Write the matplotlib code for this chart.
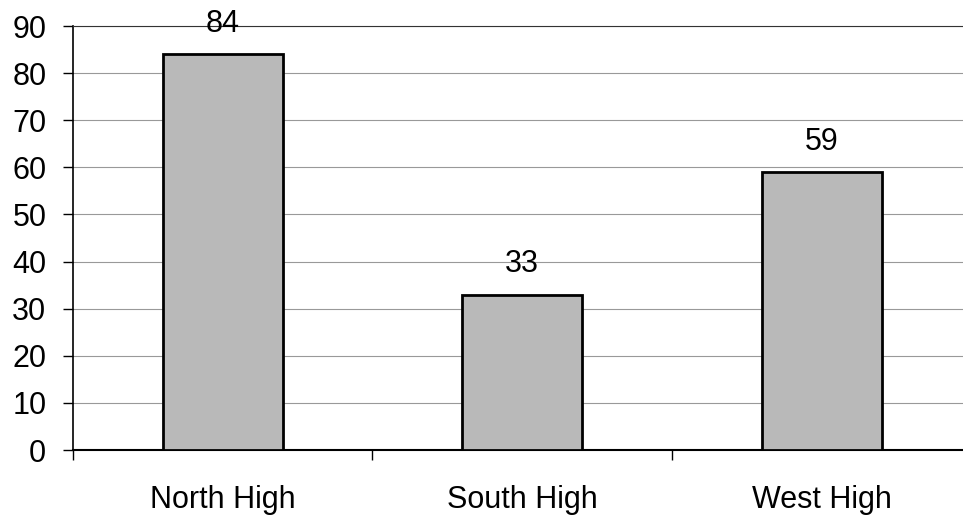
import matplotlib
matplotlib.use("Agg")
import matplotlib.pyplot as plt

plt.rcParams["font.family"] = ["Liberation Sans", "DejaVu Sans"]

schools = ["North High", "South High", "West High"]
counts = [84, 33, 59]
yticks = [0, 10, 20, 30, 40, 50, 60, 70, 80, 90]

fig = plt.figure(figsize=(9.63, 5.16), dpi=100)
ax = fig.add_axes([0.0758, 0.1279, 0.933, 0.8217])

xs = range(len(schools))
bars = ax.bar(xs, counts, width=0.4, color="#b9b9b9", edgecolor="black",
              linewidth=2, zorder=3)
for x, v in zip(xs, counts):
    ax.annotate(str(v), (x, v), xytext=(0, 11), textcoords="offset points",
                ha="center", va="bottom", fontsize=22, zorder=4)

ax.set_xlim(-0.5, 2.5)
ax.set_ylim(0, 90)
ax.set_yticks(yticks)
ax.yaxis.grid(True, color="#999999", linewidth=0.8, zorder=0)
ax.set_axisbelow(True)

ax.set_xticks(list(xs))
ax.set_xticklabels(schools)
ax.set_xticks([-0.5, 0.5, 1.5, 2.5], minor=True)
ax.tick_params(axis="x", which="major", length=0, pad=25, labelsize=22)
ax.tick_params(axis="x", which="minor", length=7.2, width=1, direction="out")
ax.tick_params(axis="y", length=7.2, width=1, direction="out", pad=12, labelsize=22)

ax.spines["right"].set_visible(False)
ax.spines["top"].set_color("#333333")
ax.spines["left"].set_linewidth(1.2)
ax.spines["bottom"].set_linewidth(1.5)

fig.savefig("out.png", dpi=100)
